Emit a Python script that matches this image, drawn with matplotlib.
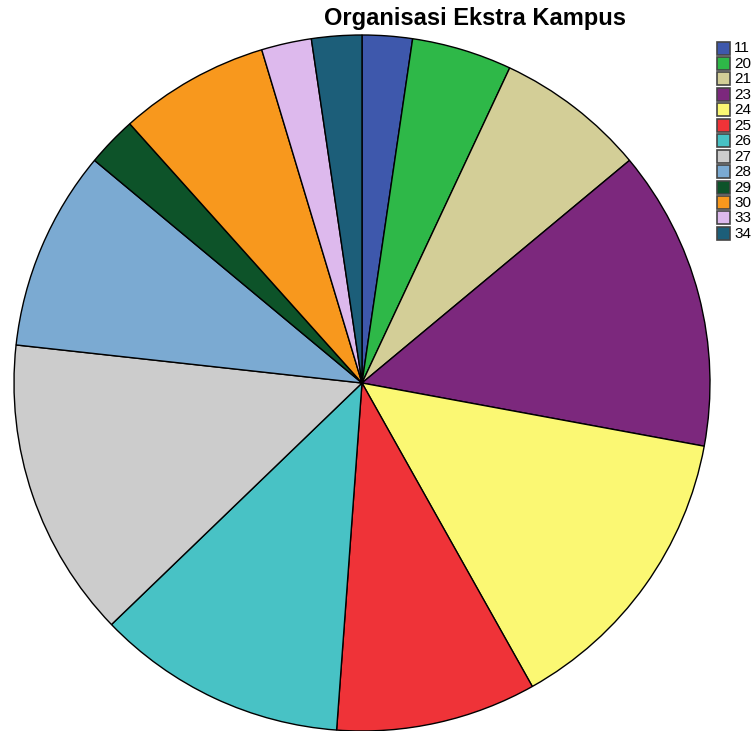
import matplotlib
matplotlib.use("Agg")
import matplotlib.pyplot as plt
from matplotlib.patches import Rectangle

labels = ["11", "20", "21", "23", "24", "25", "26", "27", "28", "29", "30", "33", "34"]
counts = [1, 2, 3, 6, 6, 4, 5, 6, 4, 1, 3, 1, 1]
colors = ["#3E58AC", "#2EB848", "#D3CE97", "#7C287D", "#FBF873", "#EF3338",
          "#48C2C5", "#CCCCCC", "#7BAAD2", "#0D5329", "#F8981D", "#DDB9ED", "#1C5E79"]

plt.rcParams['font.family'] = ['Liberation Sans', 'DejaVu Sans']

W, H = 755, 731
fig = plt.figure(figsize=(W / 100, H / 100), dpi=100)
cx, cy, r = 362, 383, 348
ax = fig.add_axes([(cx - r) / W, (H - cy - r) / H, 2 * r / W, 2 * r / H])
ax.pie(counts, colors=colors, startangle=90, counterclock=False,
       wedgeprops=dict(edgecolor="black", linewidth=1.0), radius=1.0)
ax.set_xlim(-1, 1)
ax.set_ylim(-1, 1)
ax.set_aspect('equal')
ax.axis('off')

fig.text(475 / W, 1 - 18 / H, "Organisasi Ekstra Kampus", ha='center', va='center',
         fontsize=17, fontweight='bold')

# legend
y0 = 48
dy = 15.45
for i, (lab, col) in enumerate(zip(labels, colors)):
    y = y0 + i * dy
    fig.add_artist(Rectangle(((717) / W, 1 - (y + 6.5) / H), 13 / W, 13 / H,
                             facecolor=col, edgecolor="#444444", linewidth=1.2,
                             transform=fig.transFigure))
    fig.text(734 / W, 1 - (y + 0.5) / H, lab, ha='left', va='center', fontsize=11)

fig.savefig("out.png", dpi=100)
